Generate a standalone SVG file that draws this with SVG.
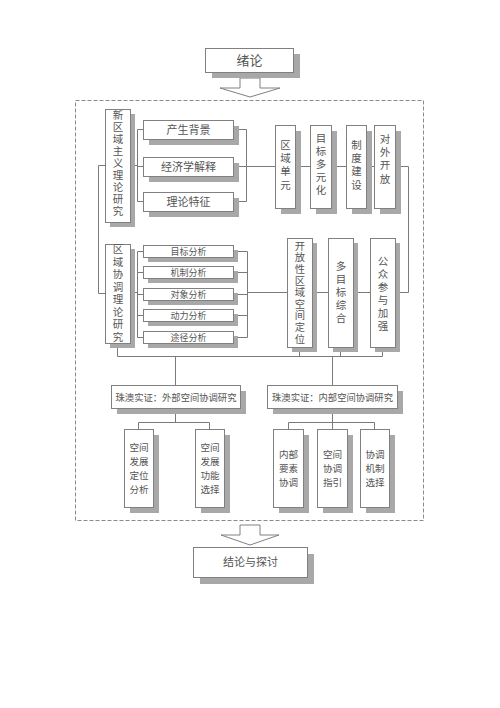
<svg xmlns="http://www.w3.org/2000/svg" width="500" height="708" viewBox="0 0 500 708">
<style>
.bg{fill:#fff}
.box{fill:#fff;stroke:#808080;stroke-width:1}
.sh{fill:#a8a8a8}
.ln{stroke:#7a7a7a;stroke-width:1;fill:none}
.t{font-family:"Noto Sans CJK SC","Noto Sans",sans-serif;fill:#555;text-anchor:middle}
.v{writing-mode:vertical-rl;font-size:10.5px}
.s13{font-size:13px}.s11{font-size:11px}.s9{font-size:9px}.s92{font-size:9.3px}.sb{font-size:9.6px}
.arrow{fill:#fff;stroke:#808080;stroke-width:1}
.frame{fill:none;stroke:#8a8a8a;stroke-width:1;stroke-dasharray:4 2}
</style>
<rect class="bg" x="0" y="0" width="500" height="708"/>
<rect class="frame" x="75.5" y="100.5" width="348" height="420"/>

<g id="connectors">
<polygon class="arrow" points="240,78 260,78 260,88 280,88 250,97 220,88 240,88"/>
<polygon class="arrow" points="240,525 260,525 260,535 279,535 250,545 221,535 240,535"/>
<path class="ln" d="M105,165.5 H98.5 V293.5 H105"/>
<path class="ln" d="M130,165.5 H137.5 M143,129.5 H137.5 V201.5 H143 M137.5,166.5 H143"/>
<path class="ln" d="M233,129.5 H246.5 V201.5 H233 M233,166.5 H275"/>
<path class="ln" d="M295,166.5 H310 M331,166.5 H346 M366,166.5 H374 M395,166.5 H408.5 V292.5 H395"/>
<path class="ln" d="M130,292.5 H137.5 M143,251.5 H137.5 V337.5 H143 M137.5,272.5 H143 M137.5,294.5 H143 M137.5,315.5 H143"/>
<path class="ln" d="M233,251.5 H247.5 V337.5 H233 M233,272.5 H247.5 M233,294.5 H247.5 M233,315.5 H247.5 M247.5,292.5 H287"/>
<path class="ln" d="M312,292.5 H328 M353,292.5 H370"/>
<path class="ln" d="M117.5,343 V356.5 H382.5 V347 M299.5,347 V356.5 M340.5,347 V356.5"/>
<path class="ln" d="M175.5,356.5 V385 M332.5,356.5 V385"/>
<path class="ln" d="M175.5,408 V422.5 M138.5,429 V422.5 H209.5 V429"/>
<path class="ln" d="M332.5,408 V422.5 M288.5,429 V422.5 H374.5 V429 M332.5,422.5 V429"/>
</g>

<g id="n-xulun">
<rect class="sh" x="212" y="54" width="88" height="24"/>
<rect class="box" x="205.5" y="48.5" width="88" height="24"/>
<text class="t s13" x="249.5" y="65">绪论</text>
</g>

<g id="n-xinquyu">
<rect class="sh" x="110" y="114" width="25" height="113"/>
<rect class="box" x="105.5" y="109.5" width="25" height="113"/>
<text class="t v" x="118" y="164" letter-spacing="1.5">新区域主义理论研究</text>
</g>

<g id="n-chansheng">
<rect class="sh" x="149" y="126" width="90" height="19"/>
<rect class="box" x="143.5" y="120.5" width="90" height="19"/>
<text class="t s11" x="188.5" y="134">产生背景</text>
</g>
<g id="n-jingji">
<rect class="sh" x="149" y="163" width="90" height="19"/>
<rect class="box" x="143.5" y="157.5" width="90" height="19"/>
<text class="t s11" x="188.5" y="171">经济学解释</text>
</g>
<g id="n-tezheng">
<rect class="sh" x="149" y="198" width="90" height="19"/>
<rect class="box" x="143.5" y="192.5" width="90" height="19"/>
<text class="t s11" x="188.5" y="206">理论特征</text>
</g>

<g id="n-quyudanyuan">
<rect class="sh" x="281" y="131" width="20" height="83"/>
<rect class="box" x="275.5" y="125.5" width="20" height="83"/>
<text class="t v" x="285.5" y="166" letter-spacing="2.8">区域单元</text>
</g>
<g id="n-mubiao">
<rect class="sh" x="316" y="131" width="21" height="83"/>
<rect class="box" x="310.5" y="125.5" width="21" height="83"/>
<text class="t v" x="321" y="165" letter-spacing="2.5">目标多元化</text>
</g>
<g id="n-zhidu">
<rect class="sh" x="352" y="131" width="20" height="83"/>
<rect class="box" x="346.5" y="125.5" width="20" height="83"/>
<text class="t v" x="356.5" y="166" letter-spacing="2.8">制度建设</text>
</g>
<g id="n-duiwai">
<rect class="sh" x="380" y="131" width="21" height="83"/>
<rect class="box" x="374.5" y="125.5" width="21" height="83"/>
<text class="t v" x="385" y="160" letter-spacing="2.8">对外开放</text>
</g>

<g id="n-quyuxietiao">
<rect class="sh" x="110" y="249" width="25" height="99"/>
<rect class="box" x="105.5" y="244.5" width="25" height="99"/>
<text class="t v" x="118" y="294" letter-spacing="2">区域协调理论研究</text>
</g>

<g id="n-a1">
<rect class="sh" x="148" y="250" width="90" height="12"/>
<rect class="box" x="143.5" y="245.5" width="90" height="12"/>
<text class="t s9" x="188.5" y="254.8">目标分析</text>
</g>
<g id="n-a2">
<rect class="sh" x="148" y="271" width="90" height="12"/>
<rect class="box" x="143.5" y="266.5" width="90" height="12"/>
<text class="t s9" x="188.5" y="275.8">机制分析</text>
</g>
<g id="n-a3">
<rect class="sh" x="148" y="293" width="90" height="12"/>
<rect class="box" x="143.5" y="288.5" width="90" height="12"/>
<text class="t s9" x="188.5" y="297.8">对象分析</text>
</g>
<g id="n-a4">
<rect class="sh" x="148" y="314" width="90" height="12"/>
<rect class="box" x="143.5" y="309.5" width="90" height="12"/>
<text class="t s9" x="188.5" y="318.8">动力分析</text>
</g>
<g id="n-a5">
<rect class="sh" x="148" y="336" width="90" height="12"/>
<rect class="box" x="143.5" y="331.5" width="90" height="12"/>
<text class="t s9" x="188.5" y="340.8">途径分析</text>
</g>

<g id="n-kaifang">
<rect class="sh" x="292" y="243" width="25" height="109"/>
<rect class="box" x="287.5" y="238.5" width="25" height="109"/>
<text class="t v" x="300" y="293" letter-spacing="1.3" style="font-size:10.3px">开放性区域空间定位</text>
</g>
<g id="n-duomubiao">
<rect class="sh" x="333" y="243" width="25" height="109"/>
<rect class="box" x="328.5" y="238.5" width="25" height="109"/>
<text class="t v" x="341" y="293" letter-spacing="2.5">多目标综合</text>
</g>
<g id="n-gongzhong">
<rect class="sh" x="375" y="243" width="25" height="109"/>
<rect class="box" x="370.5" y="238.5" width="25" height="109"/>
<text class="t v" x="383" y="295" letter-spacing="2.5">公众参与加强</text>
</g>

<g id="n-waibu">
<rect class="sh" x="117" y="391" width="129" height="23"/>
<rect class="box" x="111.5" y="385.5" width="129" height="23"/>
<text class="t s92" x="176" y="400.5">珠澳实证：外部空间协调研究</text>
</g>
<g id="n-neibu">
<rect class="sh" x="273" y="391" width="130" height="23"/>
<rect class="box" x="267.5" y="385.5" width="130" height="23"/>
<text class="t s92" x="332.5" y="400.5">珠澳实证：内部空间协调研究</text>
</g>

<g id="n-b1">
<rect class="sh" x="130" y="435" width="29" height="78"/>
<rect class="box" x="124.5" y="429.5" width="29" height="78"/>
<text class="t sb" x="139" y="451">空间</text>
<text class="t sb" x="139" y="465">发展</text>
<text class="t sb" x="139" y="479">定位</text>
<text class="t sb" x="139" y="493">分析</text>
</g>
<g id="n-b2">
<rect class="sh" x="201" y="435" width="29" height="78"/>
<rect class="box" x="195.5" y="429.5" width="29" height="78"/>
<text class="t sb" x="210" y="451">空间</text>
<text class="t sb" x="210" y="465">发展</text>
<text class="t sb" x="210" y="479">功能</text>
<text class="t sb" x="210" y="493">选择</text>
</g>
<g id="n-b3">
<rect class="sh" x="279" y="435" width="30" height="78"/>
<rect class="box" x="273.5" y="429.5" width="30" height="78"/>
<text class="t sb" x="288.5" y="458">内部</text>
<text class="t sb" x="288.5" y="472">要素</text>
<text class="t sb" x="288.5" y="486">协调</text>
</g>
<g id="n-b4">
<rect class="sh" x="323" y="435" width="30" height="78"/>
<rect class="box" x="317.5" y="429.5" width="30" height="78"/>
<text class="t sb" x="332.5" y="458">空间</text>
<text class="t sb" x="332.5" y="472">协调</text>
<text class="t sb" x="332.5" y="486">指引</text>
</g>
<g id="n-b5">
<rect class="sh" x="366" y="435" width="29" height="78"/>
<rect class="box" x="360.5" y="429.5" width="29" height="78"/>
<text class="t sb" x="375" y="458">协调</text>
<text class="t sb" x="375" y="472">机制</text>
<text class="t sb" x="375" y="486">选择</text>
</g>

<g id="n-jielun">
<rect class="sh" x="200" y="554" width="114" height="30"/>
<rect class="box" x="193.5" y="547.5" width="114" height="30"/>
<text class="t s11" x="250.5" y="566">结论与探讨</text>
</g>
</svg>
